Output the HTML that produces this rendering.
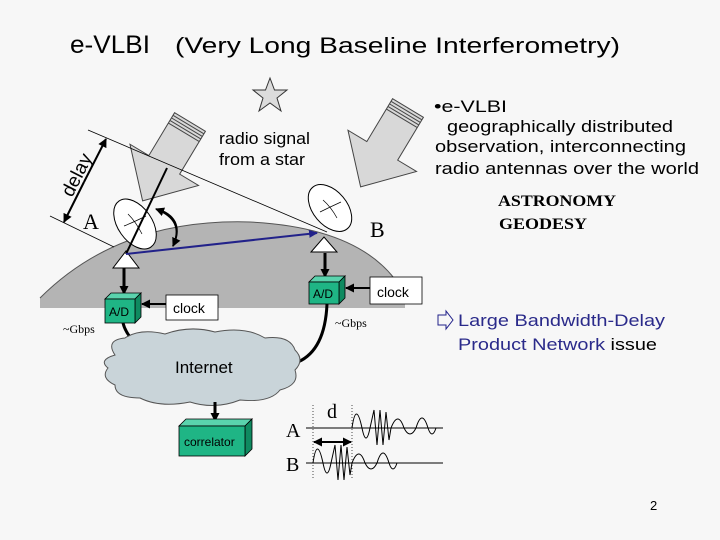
<!DOCTYPE html>
<html><head><meta charset="utf-8"><style>
html,body{margin:0;padding:0;background:#f7f7f7;}
svg{display:block;}
.s{font-family:"Liberation Sans",sans-serif;}
.r{font-family:"Liberation Serif",serif;}
</style></head><body>
<svg width="720" height="540" viewBox="0 0 720 540" xmlns="http://www.w3.org/2000/svg">
<defs>
<marker id="ah" markerWidth="9" markerHeight="9" refX="8" refY="4.5" orient="auto" markerUnits="userSpaceOnUse"><path d="M0,0 L9,4.5 L0,9 z" fill="#000"/></marker>
<marker id="ab" markerWidth="9" markerHeight="8" refX="8" refY="4" orient="auto" markerUnits="userSpaceOnUse"><path d="M0,0 L9,4 L0,8 z" fill="#22228a"/></marker>
</defs>
<rect width="720" height="540" fill="#f7f7f7"/>
<text x="70" y="53" class="s" font-size="25" textLength="80" lengthAdjust="spacingAndGlyphs">e-VLBI</text>
<text x="175" y="53" class="s" font-size="22" textLength="445" lengthAdjust="spacingAndGlyphs">(Very Long Baseline Interferometry)</text>
<!-- star -->
<polygon points="270,78 274.5,90 287,90 277,98 281,111 270,103 259,111 263,98 253,90 265.5,90" fill="#dcdcdc" stroke="#333" stroke-width="1"/>
<!-- earth -->
<path d="M40,308 L40,298 Q 120,218 250,222 Q 370,228 405,295 L405,308 Z" fill="#b4b4b4"/>
<path d="M40,298 Q 120,218 250,222 Q 370,228 405,295" fill="none" stroke="#555" stroke-width="1"/>
<!-- signal arrows -->
<g transform="translate(190,122) rotate(31)">
<polygon points="-18,0 18,0 18,50 40,50 0,92 -40,50 -18,50" fill="#d8d8d8" stroke="#444" stroke-width="1"/>
<line x1="-18" y1="3" x2="18" y2="3" stroke="#444"/><line x1="-18" y1="6" x2="18" y2="6" stroke="#444"/><line x1="-18" y1="9" x2="18" y2="9" stroke="#444"/><line x1="-18" y1="12" x2="18" y2="12" stroke="#444"/>
</g>
<g transform="translate(408,108) rotate(31)">
<polygon points="-18,0 18,0 18,50 40,50 0,92 -40,50 -18,50" fill="#d8d8d8" stroke="#444" stroke-width="1"/>
<line x1="-18" y1="3" x2="18" y2="3" stroke="#444"/><line x1="-18" y1="6" x2="18" y2="6" stroke="#444"/><line x1="-18" y1="9" x2="18" y2="9" stroke="#444"/><line x1="-18" y1="12" x2="18" y2="12" stroke="#444"/>
</g>
<text x="219" y="144" class="s" font-size="17" textLength="91" lengthAdjust="spacingAndGlyphs">radio signal</text>
<text x="219" y="165" class="s" font-size="17" textLength="86" lengthAdjust="spacingAndGlyphs">from a star</text>
<!-- delay lines -->
<line x1="88" y1="130" x2="327" y2="232" stroke="#000" stroke-width="0.8"/>
<line x1="50" y1="216" x2="114" y2="247" stroke="#000" stroke-width="0.8"/>
<line x1="84" y1="182" x2="106" y2="139" stroke="#000" stroke-width="2" marker-end="url(#ah)"/>
<line x1="84" y1="182" x2="64" y2="222" stroke="#000" stroke-width="2" marker-end="url(#ah)"/>
<text transform="translate(72,198) rotate(-63)" class="s" font-size="19">delay</text>
<!-- dishes -->
<ellipse cx="135" cy="224" rx="17" ry="28" transform="rotate(-35 135 224)" fill="#fff" stroke="#000"/>
<path d="M128,214 Q136,222 142,234 M124,226 Q134,222 146,216" fill="none" stroke="#000" stroke-width="0.7"/>
<polygon points="113,268 139,268 126,251" fill="#fff" stroke="#000"/>
<ellipse cx="330" cy="208" rx="17" ry="27" transform="rotate(-40 330 208)" fill="#fff" stroke="#000"/>
<path d="M323,200 Q331,207 337,218 M320,212 Q330,207 341,202" fill="none" stroke="#000" stroke-width="0.7"/>
<polygon points="311,252 337,252 324,237" fill="#fff" stroke="#000"/>
<text x="83" y="229" class="r" font-size="22">A</text>
<text x="370" y="237" class="r" font-size="22">B</text>
<line x1="126" y1="254" x2="167" y2="168" stroke="#000" stroke-width="2"/>
<line x1="126" y1="254" x2="317" y2="233" stroke="#22228a" stroke-width="2" marker-end="url(#ab)"/>
<path d="M160,210 Q185,220 173,246" fill="none" stroke="#000" stroke-width="1.8" marker-end="url(#ah)"/>
<path d="M173,246 Q185,220 156,209" fill="none" stroke="#000" stroke-width="1.8" marker-end="url(#ah)"/>
<!-- A/D A -->
<line x1="124" y1="268" x2="124" y2="294" stroke="#000" stroke-width="3" marker-end="url(#ah)"/>
<polygon points="105,299 135,299 141,293 111,293" fill="#5ad3ad" stroke="#000" stroke-width="0.8"/>
<polygon points="135,299 141,293 141,317 135,323" fill="#0f8a60" stroke="#000" stroke-width="0.8"/>
<rect x="105" y="299" width="30" height="24" fill="#1fb585" stroke="#000" stroke-width="0.8"/>
<text x="109" y="316" class="s" font-size="12">A/D</text>
<line x1="166" y1="304" x2="142" y2="304" stroke="#000" stroke-width="2" marker-end="url(#ah)"/>
<rect x="166" y="295" width="52" height="25" fill="#fff" stroke="#000" stroke-width="0.8"/>
<text x="173" y="313" class="s" font-size="14">clock</text>
<!-- A/D B -->
<line x1="325" y1="253" x2="325" y2="277" stroke="#000" stroke-width="3" marker-end="url(#ah)"/>
<polygon points="309,282 339,282 345,276 315,276" fill="#5ad3ad" stroke="#000" stroke-width="0.8"/>
<polygon points="339,282 345,276 345,298 339,304" fill="#0f8a60" stroke="#000" stroke-width="0.8"/>
<rect x="309" y="282" width="30" height="22" fill="#1fb585" stroke="#000" stroke-width="0.8"/>
<text x="313" y="298" class="s" font-size="12">A/D</text>
<line x1="370" y1="288" x2="346" y2="288" stroke="#000" stroke-width="2" marker-end="url(#ah)"/>
<rect x="370" y="277" width="52" height="27" fill="#fff" stroke="#000" stroke-width="0.8"/>
<text x="377" y="297" class="s" font-size="14">clock</text>
<text x="63" y="333" class="r" font-size="12">~Gbps</text>
<text x="335" y="327" class="r" font-size="12">~Gbps</text>
<!-- connectors -->
<path d="M123,323 Q126,335 138,345" fill="none" stroke="#000" stroke-width="3"/>
<path d="M327,304 Q325,350 298,362" fill="none" stroke="#000" stroke-width="3"/>
<!-- cloud -->
<path d="M115,355 Q105,340 125,338 Q140,328 165,334 Q190,325 215,332 Q245,326 265,338 Q290,335 295,350 Q305,360 295,370 Q300,385 280,390 Q270,403 240,400 Q215,410 190,402 Q160,408 140,398 Q115,398 115,385 Q100,378 108,368 Q98,360 115,355 Z" fill="#c9d4d9" stroke="#555" stroke-width="1"/>
<text x="175" y="373" class="s" font-size="17">Internet</text>
<line x1="215" y1="402" x2="215" y2="421" stroke="#000" stroke-width="3" marker-end="url(#ah)"/>
<polygon points="179,426 245,426 252,419 186,419" fill="#5ad3ad" stroke="#000" stroke-width="0.8"/>
<polygon points="245,426 252,419 252,449 245,456" fill="#0f8a60" stroke="#000" stroke-width="0.8"/>
<rect x="179" y="426" width="66" height="30" fill="#1fb585" stroke="#000" stroke-width="0.8"/>
<text x="184" y="446" class="s" font-size="12">correlator</text>
<!-- waveforms -->
<line x1="306" y1="428" x2="443" y2="428" stroke="#000" stroke-width="1"/>
<line x1="306" y1="463" x2="443" y2="463" stroke="#000" stroke-width="1"/>
<line x1="313" y1="405" x2="313" y2="480" stroke="#000" stroke-width="0.7" stroke-dasharray="1,2"/>
<line x1="352" y1="405" x2="352" y2="480" stroke="#000" stroke-width="0.7" stroke-dasharray="1,2"/>
<line x1="333" y1="442" x2="314" y2="442" stroke="#000" stroke-width="2" marker-end="url(#ah)"/>
<line x1="333" y1="442" x2="351" y2="442" stroke="#000" stroke-width="2" marker-end="url(#ah)"/>
<text x="327" y="418" class="r" font-size="20">d</text>
<text x="286" y="437" class="r" font-size="20">A</text>
<text x="286" y="471" class="r" font-size="20">B</text>
<path d="M352,428 Q356,400 362,428 Q366,448 370,428 L374,410 L377,445 L380,410 L383,445 L386,412 L389,440 L391,428 Q398,410 404,428 Q410,440 416,428 Q422,408 428,428 Q432,440 436,428" fill="none" stroke="#000" stroke-width="1"/>
<path d="M313,463 Q317,435 323,463 Q327,483 331,463 L335,445 L338,480 L341,445 L344,480 L347,447 L350,475 L352,463 Q359,445 365,463 Q371,475 377,463 Q383,443 389,463 Q393,475 397,463" fill="none" stroke="#000" stroke-width="1"/>
<!-- right text -->
<text x="434" y="112" class="s" font-size="17" textLength="73" lengthAdjust="spacingAndGlyphs">•e-VLBI</text>
<text x="447" y="132" class="s" font-size="17" textLength="226" lengthAdjust="spacingAndGlyphs">geographically distributed</text>
<text x="435" y="152" class="s" font-size="17" textLength="251" lengthAdjust="spacingAndGlyphs">observation, interconnecting</text>
<text x="435" y="174" class="s" font-size="17" textLength="264" lengthAdjust="spacingAndGlyphs">radio antennas over the world</text>
<text x="498" y="206" class="r" font-size="16" font-weight="bold" textLength="118" lengthAdjust="spacingAndGlyphs">ASTRONOMY</text>
<text x="499" y="229" class="r" font-size="16" font-weight="bold" textLength="88" lengthAdjust="spacingAndGlyphs">GEODESY</text>
<path d="M438,315 L446,315 L446,311 L453,320 L446,329 L446,325 L438,325 Z" fill="none" stroke="#22228a" stroke-width="1"/>
<text x="458" y="326" class="s" font-size="17" fill="#2a2a8a" textLength="207" lengthAdjust="spacingAndGlyphs">Large Bandwidth-Delay</text>
<text x="458" y="350" class="s" font-size="17" fill="#2a2a8a" textLength="199" lengthAdjust="spacingAndGlyphs">Product Network <tspan fill="#000">issue</tspan></text>
<text x="650" y="510" class="s" font-size="13">2</text>
</svg>
</body></html>
